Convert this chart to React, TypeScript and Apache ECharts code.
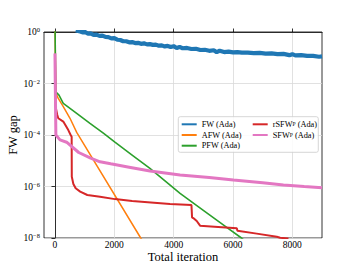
import React, { useEffect, useRef } from "react";
import * as echarts from "echarts";

// x: total iteration; y: log10(FW gap)
const xTicks = [0, 2000, 4000, 6000, 8000];

const fwIter = [700, 850, 950, 1000, 1100, 1200, 1300, 1400, 1500, 1600, 1700, 1800, 1900, 2000, 2100, 2200, 2300, 2400, 2500, 2600, 2700, 2800, 2900, 3000, 3100, 3200, 3300, 3400, 3500, 3600, 3700, 3800, 3900, 4000, 4100, 4200, 4300, 4450, 4600, 4750, 4900, 5050, 5200, 5350, 5450, 5550, 5700, 5850, 6000, 6150, 6300, 6500, 6700, 6900, 7100, 7300, 7500, 7700, 7900, 8000, 8100, 8300, 8500, 8700, 8900, 9000];
const fwLog = [0.06, 0.02, -0.02, 0.01, -0.06, -0.05, -0.11, -0.1, -0.15, -0.14, -0.19, -0.2, -0.25, -0.24, -0.3, -0.31, -0.36, -0.36, -0.4, -0.39, -0.43, -0.42, -0.46, -0.44, -0.48, -0.47, -0.5, -0.49, -0.53, -0.52, -0.56, -0.54, -0.58, -0.55, -0.62, -0.58, -0.63, -0.62, -0.66, -0.65, -0.7, -0.69, -0.73, -0.71, -0.78, -0.73, -0.78, -0.76, -0.79, -0.78, -0.8, -0.8, -0.82, -0.81, -0.84, -0.83, -0.86, -0.85, -0.9, -0.86, -0.91, -0.9, -0.93, -0.93, -0.96, -0.95];

const afwIter = [0, 25, 111, 280, 506, 732, 2890, 2950];
const afwLog = [0.5, -2.35, -2.58, -2.9, -3.35, -3.9, -8.0, -8.1];

const pfwIter = [0, 25, 135, 280, 732, 1180, 1630, 2020, 2600, 3200, 4216, 5000, 5800, 6297, 6350];
const pfwLog = [0.5, -2.32, -2.45, -2.77, -3.16, -3.55, -3.93, -4.28, -4.78, -5.3, -6.27, -6.93, -7.6, -8.01, -8.06];

const rsfwIter = [0, 20, 78, 111, 280, 449, 520, 562, 567, 620, 697, 850, 1090, 1518, 2020, 2600, 3340, 3878, 4600, 4620, 4700, 4778, 4890, 5500, 6128, 6150, 6800, 7477, 7589, 7870];
const rsfwLog = [-1.0, -2.9, -3.22, -3.35, -3.48, -3.81, -3.98, -4.07, -5.62, -5.9, -6.07, -6.2, -6.33, -6.4, -6.49, -6.56, -6.63, -6.68, -6.72, -7.2, -7.26, -7.34, -7.52, -7.57, -7.62, -7.72, -7.83, -7.95, -7.99, -8.02];

const sfwIter = [0, 10, 30, 169, 393, 800, 1203, 1518, 1878, 2500, 3204, 4216, 5200, 6015, 7000, 7700, 8400, 9000];
const sfwLog = [-0.83, -2.0, -4.0, -4.19, -4.28, -4.68, -4.9, -5.04, -5.12, -5.25, -5.4, -5.55, -5.65, -5.75, -5.85, -5.94, -6.0, -6.05];

const names = ["FW (Ada)", "AFW (Ada)", "PFW (Ada)", "rSFW_P (Ada)", "SFW_P (Ada)"];
const colors = ["#1f77b4", "#ff7f0e", "#2ca02c", "#d62728", "#e377c2"];
const widths = [4.2, 1.5, 1.6, 2, 3];

const FONT = "Liberation Serif";

const zip = (xs: number[], ys: number[]) => xs.map((x, i) => [x, ys[i]]);

export default function App() {
  const ref = useRef<HTMLDivElement>(null);
  useEffect(() => {
    const chart = echarts.init(ref.current!, null, { renderer: "svg" });
    const seriesData = [
      zip(fwIter, fwLog),
      zip(afwIter, afwLog),
      zip(pfwIter, pfwLog),
      zip(rsfwIter, rsfwLog),
      zip(sfwIter, sfwLog),
    ];
    const legendText = {
      fontFamily: FONT,
      fontSize: 8.3,
      color: "#000",
      lineHeight: 10,
      rich: {
        sub: { fontFamily: FONT, fontSize: 5.5, lineHeight: 10, color: "#000" },
      },
    };
    const legendFormatter = (n: string) => n.replace("_P", "{sub|P}");
    chart.setOption({
      animation: false,
      backgroundColor: "#fff",
      grid: {
        left: 44,
        right: 35,
        top: 32,
        bottom: 30,
        show: true,
        borderColor: "#000",
        borderWidth: 0.8,
        containLabel: false,
        outerBoundsMode: "none",
      },
      xAxis: {
        type: "value",
        min: -370,
        max: 9000,
        name: "Total iteration",
        nameLocation: "middle",
        nameGap: 12,
        nameMoveOverlap: false,
        nameTextStyle: { fontFamily: FONT, fontSize: 12.5, color: "#000" },
        axisLine: { show: true, lineStyle: { color: "#000", width: 0.8 } },
        axisTick: { show: true, inside: true, length: 3.5, customValues: xTicks, lineStyle: { color: "#000", width: 0.8 } },
        axisLabel: {
          customValues: xTicks,
          margin: 2,
          fontFamily: FONT,
          fontSize: 9.5,
          color: "#000",
          formatter: (v: number) => String(v),
        },
        splitLine: { show: true, lineStyle: { color: "#d9d9d9", width: 0.8 } },
      },
      yAxis: {
        type: "value",
        min: -8,
        max: 0,
        interval: 2,
        name: "FW gap",
        nameLocation: "middle",
        nameGap: 24.5,
        nameMoveOverlap: false,
        nameTextStyle: { fontFamily: FONT, fontSize: 12.5, color: "#000" },
        axisLine: { show: true, lineStyle: { color: "#000", width: 0.8 } },
        axisTick: { show: true, inside: false, length: 3.5, lineStyle: { color: "#000", width: 0.8 } },
        axisLabel: {
          margin: 4,
          color: "#000",
          formatter: (v: number) => (v === 0 ? "{b|10}{s|0}" : `{b|10}{s|−${-v}}`),
          rich: {
            b: { fontFamily: FONT, fontSize: 9.5, lineHeight: 12, color: "#000" },
            s: { fontFamily: FONT, fontSize: 6.5, lineHeight: 7, verticalAlign: "top", color: "#000" },
          },
        },
        splitLine: { show: true, lineStyle: { color: "#d9d9d9", width: 0.8 } },
      },
      legend: [
        {
          data: names.slice(0, 3),
          orient: "vertical",
          left: 181.7,
          top: 119.3,
          itemWidth: 15,
          itemHeight: 2,
          itemGap: 0.7,
          icon: "rect",
          padding: 0,
          textStyle: legendText,
          formatter: legendFormatter,
          z: 5,
        },
        {
          data: names.slice(3),
          orient: "vertical",
          left: 252.7,
          top: 119.3,
          itemWidth: 15,
          itemHeight: 2,
          itemGap: 0.7,
          icon: "rect",
          padding: 0,
          textStyle: legendText,
          formatter: legendFormatter,
          z: 5,
        },
      ],
      graphic: [
        {
          type: "rect",
          z: 4,
          shape: { x: 178.3, y: 116.7, width: 140, height: 35.6, r: 2 },
          style: { fill: "rgba(255,255,255,0.85)", stroke: "#cccccc", lineWidth: 0.8 },
        },
      ],
      series: seriesData.map((d, i) => ({
        type: "line",
        name: names[i],
        data: d,
        showSymbol: false,
        symbol: "none",
        clip: true,
        lineStyle: { color: colors[i], width: widths[i] },
        itemStyle: { color: colors[i] },
        z: 2 + i * 0.01,
      })),
    });
    return () => chart.dispose();
  }, []);
  return (
    <div
      ref={ref}
      style={{ position: "fixed", left: 0, top: 0, width: 357, height: 268, background: "#fff" }}
    />
  );
}
